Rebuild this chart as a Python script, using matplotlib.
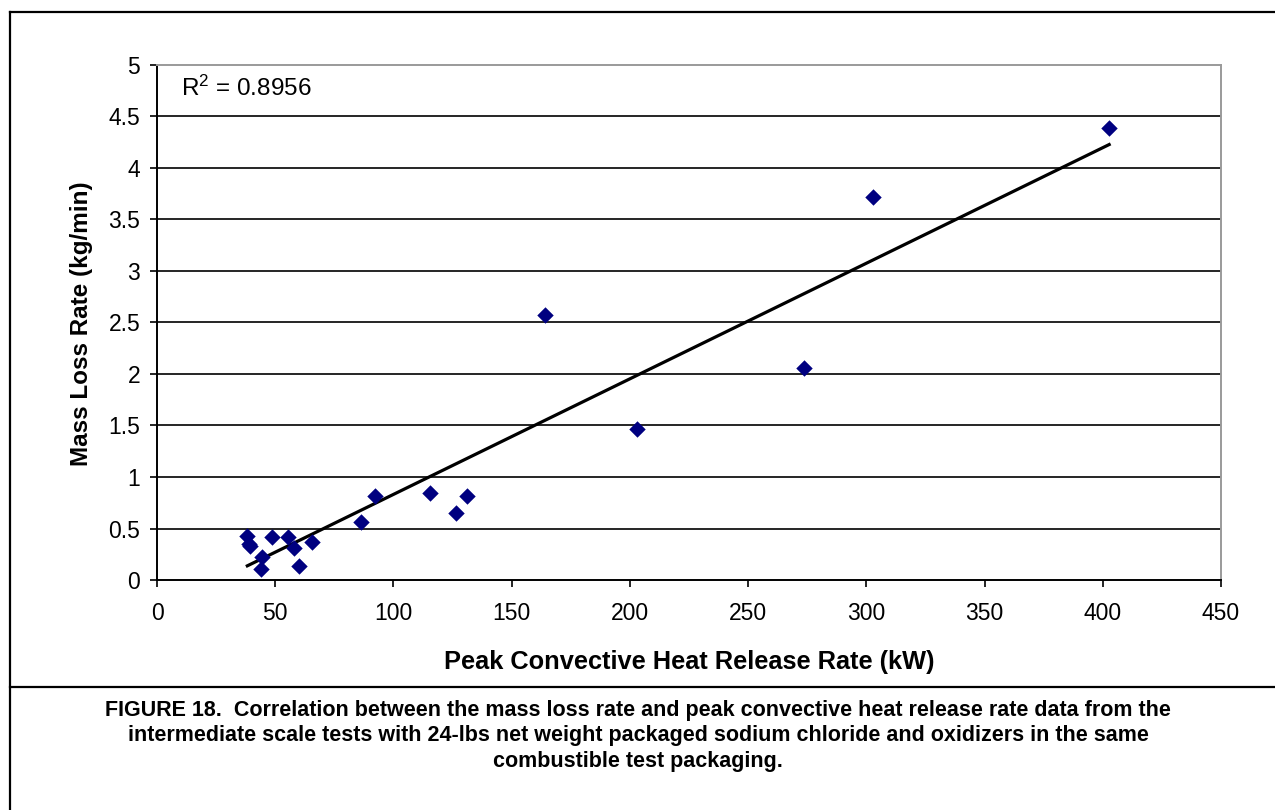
import numpy as np
import matplotlib
matplotlib.use("Agg")
import matplotlib.pyplot as plt
from matplotlib.lines import Line2D

plt.rcParams['font.family'] = ['Liberation Sans', 'DejaVu Sans']
plt.rcParams['mathtext.default'] = 'regular'

# peak convective HRR (kW) vs mass loss rate (kg/min)
hrr = [38.2, 38.8, 39.4, 43.9, 44.6, 48.8, 55.3, 57.8, 60.2, 65.7,
       86.2, 92.0, 115.5, 126.6, 130.9, 164.1, 203.0, 273.7, 302.9, 402.7]
mlr = [0.43, 0.35, 0.33, 0.11, 0.22, 0.42, 0.42, 0.31, 0.14, 0.37,
       0.56, 0.82, 0.84, 0.65, 0.82, 2.57, 1.47, 2.06, 3.72, 4.39]
r2_label = "R$^{2}$ = 0.8956"
x_ticks = [0, 50, 100, 150, 200, 250, 300, 350, 400, 450]
y_ticks = [0, 0.5, 1, 1.5, 2, 2.5, 3, 3.5, 4, 4.5, 5]
caption = ("FIGURE 18.  Correlation between the mass loss rate and peak convective heat release rate data from the\n"
           "intermediate scale tests with 24-lbs net weight packaged sodium chloride and oxidizers in the same\n"
           "combustible test packaging.")

W, H = 1275, 810
fig = plt.figure(figsize=(W / 100, H / 100), dpi=100)
fig.patch.set_facecolor('white')

# outer frame + separator above the caption (pixel coords -> figure fraction)
def px(x, y):
    return x / W, 1 - y / H

for (x0, y0, x1, y1) in [(10, 12, 1280, 12), (10, 12, 10, 812), (10, 687, 1280, 687)]:
    a, b = px(x0, y0)
    c, d = px(x1, y1)
    fig.add_artist(Line2D([a, c], [b, d], color='black', lw=1.6, transform=fig.transFigure))

left, right, top, bottom = 157, 1221, 65, 580
ax = fig.add_axes([left / W, 1 - bottom / H, (right - left) / W, (bottom - top) / H])

ax.scatter(hrr, mlr, marker='D', s=70, color='#000080', zorder=3, linewidths=0)

# linear trendline over the data range
xs = np.array(hrr)
k, b0 = np.polyfit(xs, np.array(mlr), 1)
xl = np.array([xs.min(), xs.max()])
ax.plot(xl, k * xl + b0, color='black', lw=2.3, zorder=2)

ax.set_xlim(0, 450)
ax.set_ylim(0, 5)
ax.set_xticks(x_ticks)
ax.set_yticks(y_ticks)
ax.set_xticklabels([str(v) for v in x_ticks])
ax.set_yticklabels([f"{v:g}" for v in y_ticks])
ax.tick_params(axis='both', direction='out', length=5, width=1.2, labelsize=16.5, colors='black')
ax.tick_params(axis='x', pad=11)
ax.tick_params(axis='y', pad=7)

ax.yaxis.grid(True, color='black', lw=1.2)
ax.get_ygridlines()[-1].set_visible(False)
ax.get_ygridlines()[0].set_visible(False)
ax.set_axisbelow(True)

for s in ['left', 'bottom']:
    ax.spines[s].set_color('black')
    ax.spines[s].set_linewidth(1.4)
for s in ['top', 'right']:
    ax.spines[s].set_color('#9a9a9a')
    ax.spines[s].set_linewidth(1.4)

ax.text(10, 4.77, r2_label, fontsize=17.5, va='center', ha='left')

fig.text(689 / W, 1 - 662 / H, "Peak Convective Heat Release Rate (kW)",
         fontsize=18.3, fontweight='bold', ha='center', va='center')
fig.text(82 / W, 1 - 324 / H, "Mass Loss Rate (kg/min)",
         fontsize=17.5, fontweight='bold', ha='center', va='center', rotation=90)

fig.text(638 / W, 1 - 736 / H, caption, fontsize=15.5, fontweight='bold',
         ha='center', va='center', linespacing=1.27)

fig.savefig("out.png", dpi=100)
